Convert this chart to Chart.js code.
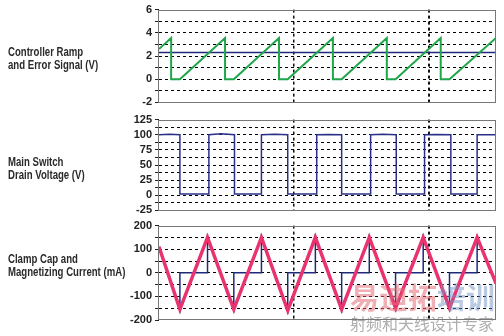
<!DOCTYPE html>
<html>
<head>
<meta charset="utf-8">
<script src="https://cdn.jsdelivr.net/npm/chart.js@4.4.1/dist/chart.umd.min.js"></script>
<style>
  body { margin: 0; background: #fff; width: 504px; height: 336px; overflow: hidden; position: relative; font-family: "Liberation Sans Narrow", "Liberation Sans", sans-serif; }
  canvas { position: absolute; left: 0; }
  .side { position: absolute; left: 8px; font-weight: bold; font-size: 12px; line-height: 12.5px; color: #2a2a2a; white-space: nowrap; transform: scaleX(0.8); transform-origin: left top; }
  .wm { position: absolute; left: 350px; white-space: nowrap; font-family: "Noto Sans CJK SC", sans-serif; }
</style>
</head>
<body>
<canvas id="rampChart" width="504" height="112" style="top:0px"></canvas>
<canvas id="drainChart" width="504" height="110" style="top:110px"></canvas>
<canvas id="currentChart" width="504" height="120" style="top:216px"></canvas>

<div class="side" style="top:46px">Controller Ramp<br>and Error Signal (V)</div>
<div class="side" style="top:156px">Main Switch<br>Drain Voltage (V)</div>
<div class="side" style="top:253px">Clamp Cap and<br>Magnetizing Current (mA)</div>

<div class="wm" style="top:280px; font-size:29px; font-weight:bold; line-height:32px;"><span style="color:rgba(225,110,120,0.55)">易迪拓</span><span style="color:rgba(120,150,200,0.5)">培训</span></div>
<div class="wm" style="top:314px; font-size:16px; line-height:18px; color:rgba(120,120,120,0.6)">射频和天线设计专家</div>

<script>
// time axis (arbitrary units)
const xMin = 0;
const xMax = 2.5;

// panel 1: controller ramp + error signal (V)
const rampX = [0, 0.09, 0.09, 0.155, 0.49, 0.49, 0.555, 0.89, 0.89, 0.955, 1.29, 1.29, 1.355, 1.69, 1.69, 1.755, 2.09, 2.09, 2.155, 2.5];
const rampY = [2.6, 3.55, 0, 0, 3.55, 0, 0, 3.55, 0, 0, 3.55, 0, 0, 3.55, 0, 0, 3.55, 0, 0, 3.55];
const errorX = [0, 2.5];
const errorY = [2.3, 2.3];
const rampLabels = [-2, 0, 2, 4, 6];

// panel 2: main switch drain voltage (V)
const drainX = [0, 0.08, 0.155, 0.155, 0.37, 0.37, 0.46, 0.56, 0.56, 0.76, 0.76, 0.86, 0.955, 0.955, 1.17, 1.17, 1.26, 1.355, 1.355, 1.57, 1.57, 1.66, 1.76, 1.76, 1.97, 1.97, 2.06, 2.165, 2.165, 2.36, 2.36, 2.5];
const drainY = [100, 101, 100, 2, 2, 100, 101.5, 100, 2, 2, 100, 101, 100, 2, 2, 100, 100.5, 100, 2, 2, 100, 101, 100, 2, 2, 100, 100.5, 100, 2, 2, 100, 100];
const drainLabels = [-25, 0, 25, 50, 75, 100, 125];

// panel 3: magnetizing current (pink) and clamp cap current (blue), mA
const magX = [0, 0.155, 0.36, 0.555, 0.76, 0.955, 1.16, 1.355, 1.56, 1.755, 1.96, 2.155, 2.36, 2.5];
const magY = [110, -155, 150, -155, 150, -160, 150, -155, 150, -150, 150, -150, 150, -45];
const clampX = [0, 0.155, 0.155, 0.36, 0.36, 0.555, 0.555, 0.76, 0.76, 0.955, 0.955, 1.16, 1.16, 1.355, 1.355, 1.56, 1.56, 1.755, 1.755, 1.96, 1.96, 2.155, 2.155, 2.36, 2.36, 2.5];
const clampY = [110, -155, 0, 0, 150, -155, 0, 0, 150, -160, 0, 0, 150, -155, 0, 0, 150, -150, 0, 0, 150, -150, 0, 0, 150, -45];
const currentLabels = [-200, -100, 0, 100, 200];

const framePlugin = {
    id: 'frame',
    afterDatasetsDraw(chart) {
        const a = chart.chartArea;
        const ctx = chart.ctx;
        ctx.save();
        ctx.strokeStyle = '#777';
        ctx.lineWidth = 1;
        ctx.strokeRect(Math.round(a.left) - 0.5, Math.round(a.top) + 0.5, Math.round(a.right - a.left), Math.round(a.bottom - a.top) - 1);
        ctx.restore();
    }
};

function toPoints(xs, ys) {
    return xs.map((x, i) => ({ x: x, y: ys[i] }));
}

// series listed back to front; "order" makes later ones draw on top
function buildPanel(id, series, yMin, yMax, step, labels, padTop, padBottom) {
    new Chart(document.getElementById(id), {
        type: 'line',
        data: {
            datasets: series.map((s, i) => ({
                data: toPoints(s.x, s.y),
                borderColor: s.color,
                borderWidth: s.width,
                pointRadius: 0,
                fill: false,
                tension: 0,
                order: series.length - i
            }))
        },
        options: {
            responsive: false,
            animation: false,
            events: [],
            layout: { padding: { left: 0, right: 8, top: padTop, bottom: padBottom } },
            plugins: { legend: { display: false }, tooltip: { enabled: false } },
            scales: {
                x: {
                    type: 'linear',
                    min: xMin,
                    max: xMax,
                    ticks: { display: false, stepSize: 1 },
                    grid: {
                        drawTicks: false,
                        color: c => (c.tick && (c.tick.value === 1 || c.tick.value === 2)) ? '#111' : 'rgba(0,0,0,0)',
                        lineWidth: c => (c.tick && c.tick.value === 2) ? 2 : 1.5
                    },
                    border: { display: false, dash: [3, 3] },
                    afterFit: s => { s.height = 0; }
                },
                y: {
                    min: yMin,
                    max: yMax,
                    ticks: {
                        stepSize: step,
                        autoSkip: false,
                        padding: 3,
                        color: '#222',
                        font: { family: '"Liberation Sans Narrow", "Liberation Sans", sans-serif', size: 11, weight: 'bold' },
                        callback: v => labels.includes(v) ? String(v) : ''
                    },
                    grid: {
                        color: c => (c.tick && (c.tick.value === yMin || c.tick.value === yMax)) ? 'rgba(0,0,0,0)' : '#000',
                        tickColor: '#222',
                        tickLength: 4
                    },
                    border: { display: false, dash: [3, 3] },
                    afterFit: s => { s.width = 159; }
                }
            }
        },
        plugins: [framePlugin]
    });
}

buildPanel('rampChart', [
    { x: errorX, y: errorY, color: '#1f2a7a', width: 1.5 },
    { x: rampX, y: rampY, color: '#1fa64a', width: 2 }
], -2, 6, 1, rampLabels, 7, 5);

buildPanel('drainChart', [
    { x: drainX, y: drainY, color: '#2a3088', width: 1.5 }
], -25, 125, 12.5, drainLabels, 5.5, 5.5);

buildPanel('currentChart', [
    { x: clampX, y: clampY, color: '#1f2a7a', width: 1.5 },
    { x: magX, y: magY, color: '#e8336f', width: 3.5 }
], -200, 200, 50, currentLabels, 6, 16);
</script>
</body>
</html>
